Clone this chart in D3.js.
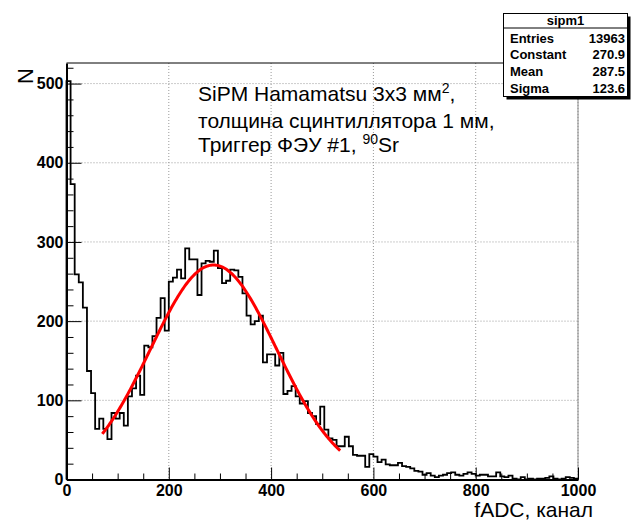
<!DOCTYPE html>
<html>
<head>
<meta charset="utf-8">
<script src="https://cdn.jsdelivr.net/npm/d3@7"></script>
<style>
  body { margin: 0; background: #fff; }
  svg { display: block; font-family: "Liberation Sans", Arial, sans-serif; }
</style>
</head>
<body>
<div id="chart"></div>
<script>
// histogram: 125 bins of 8 fADC channels, 0..1000
const binWidth = 8;
const xDomain = [0, 1000];
const yDomain = [0, 526];
const counts = [
  503, 373, 259, 249, 217, 137, 109, 64, 77, 64,
  51, 84, 77, 84, 68, 105, 115, 131, 107, 169,
  167, 181, 204, 229, 188, 250, 255, 265, 254, 292,
  278, 278, 233, 273, 276, 275, 289, 267, 248, 251,
  265, 264, 256, 235, 207, 196, 200, 207, 148, 158,
  158, 144, 160, 108, 112, 118, 105, 96, 99, 84,
  80, 70, 92, 63, 52, 50, 42, 42, 54, 42,
  31, 30, 30, 16, 32, 29, 22, 25, 19, 18,
  18, 21, 17, 16, 14, 11, 10, 6, 8, 5,
  3, 5, 6, 8, 9, 6, 5, 7, 9, 7,
  5, 6, 6, 4, 4, 9, 4, 3, 5, 1,
  0, 3, 0, 1, 0, 1, 1, 2, 4, 1,
  0, 1, 3, 2, 1
];

const xTicks = [0, 200, 400, 600, 800, 1000];
const yTicks = [0, 100, 200, 300, 400, 500];

// gaus fit parameters (from the stats box)
const fitConstant = 270.9;
const fitMean = 287.5;
const fitSigma = 123.6;
const fitRange = [70, 535];

const statsTitle = 'sipm1';
const statNames = ['Entries', 'Constant', 'Mean', 'Sigma'];
const statValues = ['13963', '270.9', '287.5', '123.6'];

const xLabel = 'fADC, канал';
const yLabel = 'N';

const width = 632, height = 525;
const frame = { left: 66.5, right: 578, top: 63, bottom: 479.5 };

const svg = d3.select('#chart')
  .append('svg')
  .attr('width', width)
  .attr('height', height);

const x = d3.scaleLinear().domain(xDomain).range([frame.left, frame.right]);
const y = d3.scaleLinear().domain(yDomain).range([frame.bottom, frame.top]);

// grid
svg.append('g')
  .selectAll('line')
  .data(xTicks.filter(d => d > 0))
  .enter().append('line')
  .attr('x1', d => x(d)).attr('x2', d => x(d))
  .attr('y1', frame.top).attr('y2', frame.bottom)
  .attr('stroke', '#999').attr('stroke-width', 1)
  .attr('stroke-dasharray', '1,2');

svg.append('g')
  .selectAll('line')
  .data(yTicks.filter(d => d > 0))
  .enter().append('line')
  .attr('x1', frame.left).attr('x2', frame.right)
  .attr('y1', d => y(d)).attr('y2', d => y(d))
  .attr('stroke', '#999').attr('stroke-width', 1)
  .attr('stroke-dasharray', '1,2');

// frame top / right
svg.append('line')
  .attr('x1', frame.left).attr('x2', frame.right)
  .attr('y1', frame.top).attr('y2', frame.top)
  .attr('stroke', '#000');
svg.append('line')
  .attr('x1', frame.right).attr('x2', frame.right)
  .attr('y1', frame.top).attr('y2', frame.bottom)
  .attr('stroke', '#888');

// histogram outline
let pts = [[xDomain[0], 0]];
counts.forEach((c, i) => {
  pts.push([i * binWidth, c]);
  pts.push([(i + 1) * binWidth, c]);
});
pts.push([xDomain[1], 0]);

svg.append('path')
  .datum(pts)
  .attr('fill', 'none')
  .attr('stroke', '#000')
  .attr('stroke-width', 1.8)
  .attr('d', d3.line().x(d => x(d[0])).y(d => y(d[1])));

// fit
const gaus = v => fitConstant * Math.exp(-0.5 * Math.pow((v - fitMean) / fitSigma, 2));
const fitX = d3.range(fitRange[0], fitRange[1] + 0.1, 2.5);
svg.append('path')
  .datum(fitX)
  .attr('fill', 'none')
  .attr('stroke', '#ff0000')
  .attr('stroke-width', 3)
  .attr('d', d3.line().x(d => x(d)).y(d => y(gaus(d))));

// axes
const tickFont = g => g.selectAll('text')
  .attr('font-family', '"Liberation Sans", Arial, sans-serif')
  .attr('font-size', 16)
  .attr('font-weight', 'bold')
  .attr('fill', '#000');

const xMinor = svg.append('g')
  .attr('transform', `translate(0,${frame.bottom})`)
  .call(d3.axisBottom(x).tickValues(d3.range(0, 1001, 50).filter(d => d % 200 !== 0))
    .tickSizeInner(-6).tickSizeOuter(0).tickFormat(''));
xMinor.select('.domain').remove();

const xAxis = svg.append('g')
  .attr('transform', `translate(0,${frame.bottom})`)
  .call(d3.axisBottom(x).tickValues(xTicks).tickFormat(d3.format('d'))
    .tickSizeInner(-12).tickSizeOuter(0).tickPadding(5));
xAxis.call(tickFont);
xAxis.select('.domain').attr('stroke-width', 2);

const yMinor = svg.append('g')
  .attr('transform', `translate(${frame.left},0)`)
  .call(d3.axisLeft(y).tickValues(d3.range(0, 521, 20).filter(d => d % 100 !== 0))
    .tickSizeInner(-7).tickSizeOuter(0).tickFormat(''));
yMinor.select('.domain').remove();

const yAxis = svg.append('g')
  .attr('transform', `translate(${frame.left},0)`)
  .call(d3.axisLeft(y).tickValues(yTicks).tickFormat(d3.format('d'))
    .tickSizeInner(-15).tickSizeOuter(0).tickPadding(3));
yAxis.call(tickFont);
yAxis.select('.domain').attr('stroke-width', 2);

// axis titles
svg.append('text')
  .attr('transform', 'translate(33,68) rotate(-90)')
  .attr('text-anchor', 'end')
  .attr('font-size', 22)
  .text(yLabel);

svg.append('text')
  .attr('x', 593)
  .attr('y', 517)
  .attr('text-anchor', 'end')
  .attr('font-size', 21)
  .text(xLabel);

// annotation
const note = svg.append('text')
  .attr('font-size', 21)
  .attr('fill', '#000');

const l1 = note.append('tspan').attr('x', 198).attr('y', 101);
l1.append('tspan').text('SiPM Hamamatsu 3x3 мм');
l1.append('tspan').attr('font-size', 14).attr('dy', -8).text('2');
l1.append('tspan').attr('dy', 8).text(',');

note.append('tspan').attr('x', 198).attr('y', 128)
  .text('толщина сцинтиллятора 1 мм,');

const l3 = note.append('tspan').attr('x', 198).attr('y', 152);
l3.append('tspan').text('Триггер ФЭУ #1, ');
l3.append('tspan').attr('font-size', 14).attr('dy', -8).text('90');
l3.append('tspan').attr('dy', 8).text('Sr');

// stats box
const box = { x: 503.5, y: 13.5, w: 124, h: 83 };
const stats = svg.append('g');
stats.append('rect')
  .attr('x', box.x + 3).attr('y', box.y + 3)
  .attr('width', box.w).attr('height', box.h)
  .attr('fill', '#000');
stats.append('rect')
  .attr('x', box.x).attr('y', box.y)
  .attr('width', box.w).attr('height', box.h)
  .attr('fill', '#fff').attr('stroke', '#000');
stats.append('line')
  .attr('x1', box.x).attr('x2', box.x + box.w)
  .attr('y1', 28).attr('y2', 28)
  .attr('stroke', '#000');
stats.append('text')
  .attr('x', box.x + box.w / 2).attr('y', 25)
  .attr('text-anchor', 'middle')
  .attr('font-size', 13).attr('font-weight', 'bold')
  .text(statsTitle);

const rowY = [42.5, 59, 75.5, 92.5];
statNames.forEach((n, i) => {
  stats.append('text')
    .attr('x', 510).attr('y', rowY[i])
    .attr('font-size', 13).attr('font-weight', 'bold')
    .text(n);
  stats.append('text')
    .attr('x', 625).attr('y', rowY[i])
    .attr('text-anchor', 'end')
    .attr('font-size', 13).attr('font-weight', 'bold')
    .text(statValues[i]);
});
</script>
</body>
</html>
